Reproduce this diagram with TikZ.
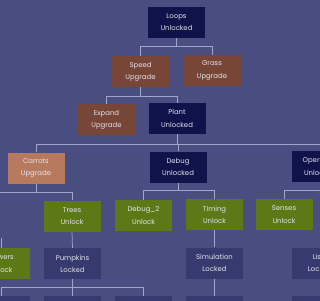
\documentclass[tikz,border=0pt]{standalone}
\usepackage{fontspec}
\setmainfont{Poppins}
\definecolor{bg}{HTML}{4A4D7F}
\definecolor{wire}{HTML}{A3A6CC}
\definecolor{cUnlocked}{HTML}{10124A}
\definecolor{cUpgrade}{HTML}{774637}
\definecolor{cCarrot}{HTML}{B67B5E}
\definecolor{cUnlock}{HTML}{5B7A17}
\definecolor{cLocked}{HTML}{363A6E}
\definecolor{txt}{HTML}{E4E4EE}
\tikzset{
  box/.style={minimum width=57pt, minimum height=31pt, inner sep=0pt, align=center,
    text=txt, font=\fontsize{6.9}{12.2}\selectfont},
  sUnlocked/.style={box, fill=cUnlocked},
  sUpgrade/.style={box, fill=cUpgrade},
  sCarrot/.style={box, fill=cCarrot},
  sUnlock/.style={box, fill=cUnlock},
  sLocked/.style={box, fill=cLocked},
  sStub/.style={minimum width=57pt, minimum height=6pt, inner sep=0pt, fill=cLocked},
  wirestyle/.style={draw=wire, line width=0.7pt},
}
\begin{document}
\begin{tikzpicture}[x=1pt, y=-1pt]
\useasboundingbox (0,0) rectangle (320,300);
\begin{scope}
\clip (0,0) rectangle (320,300);
\fill[bg] (-5,-5) rectangle (325,305);
% nodes
\node[sUnlocked] (loops) at (176.5,22.5) {Loops\\Unlocked};
\node[sUpgrade] (speed) at (140.5,71.5) {Speed\\Upgrade};
\node[sUpgrade] (grass) at (212,70.5) {Grass\\Upgrade};
\node[sUpgrade] (expand) at (106.5,119.5) {Expand\\Upgrade};
\node[sUnlocked] (plant) at (177,118.5) {Plant\\Unlocked};
\node[sCarrot] (carrots) at (36,168) {Carrots\\Upgrade};
\node[sUnlocked] (debug) at (178,167) {Debug\\Unlocked};
\node[sUnlocked] (oper) at (320,166.5) {Operators\\Unlocked};
\node[sUnlock] (trees) at (72,216) {Trees\\Unlock};
\node[sUnlock] (debugtwo) at (143.5,215.5) {Debug\_2\\Unlock};
\node[sUnlock] (timing) at (214.5,214.5) {Timing\\Unlock};
\node[sUnlock] (senses) at (284,214.5) {Senses\\Unlock};
\node[sUnlock] (flowers) at (1,263.5) {Flowers\\Unlock};
\node[sLocked] (pumpkins) at (72.5,263.5) {Pumpkins\\Locked};
\node[sLocked] (simulation) at (214.5,263) {Simulation\\Locked};
\node[sLocked] (lists) at (320,263) {Lists\\Locked};
\node[sStub] (ba) at (1,299) {};
\node[sStub] (bb) at (72.5,299) {};
\node[sStub] (bc) at (143.5,299) {};
\node[sStub] (bd) at (214.5,299) {};
\node[sStub] (be) at (320,299) {};
\coordinate (fstub) at (1,238);
% connectors
\draw[wirestyle] (loops.south) -- ++(0,8) -| (speed.north);
\draw[wirestyle] (loops.south) -- ++(0,8) -| (grass.north);
\draw[wirestyle] (speed.south) -- ++(0,9) -| (expand.north);
\draw[wirestyle] (speed.south) -- ++(0,9) -| (plant.north);
\draw[wirestyle] (plant.south) -- ++(0,10) -| (carrots.north);
\draw[wirestyle] (plant.south) -- ++(0,10) -| (debug.north);
\draw[wirestyle] (plant.south) -- ++(0,10) -| (oper.north);
\draw[wirestyle] (carrots.south) -- ++(0,9) -| (trees.north);
\draw[wirestyle] (carrots.south) -- ++(0,9) -| (0,192);
\draw[wirestyle] (debug.south) -- ++(0,8) -| (debugtwo.north);
\draw[wirestyle] (debug.south) -- ++(0,8) -| (timing.north);
\draw[wirestyle] (oper.south) -- ++(0,8) -| (senses.north);
\draw[wirestyle] (trees.south) -- (pumpkins.north);
\draw[wirestyle] (timing.south) -- (simulation.north);
\draw[wirestyle] (fstub) -- (flowers.north);
\draw[wirestyle] (pumpkins.south) -- ++(0,8) -| (ba.north);
\draw[wirestyle] (pumpkins.south) -- (bb.north);
\draw[wirestyle] (pumpkins.south) -- ++(0,8) -| (bc.north);
\draw[wirestyle] (simulation.south) -- (bd.north);
\draw[wirestyle] (lists.south) -- (be.north);
\end{scope}
\end{tikzpicture}
\end{document}
